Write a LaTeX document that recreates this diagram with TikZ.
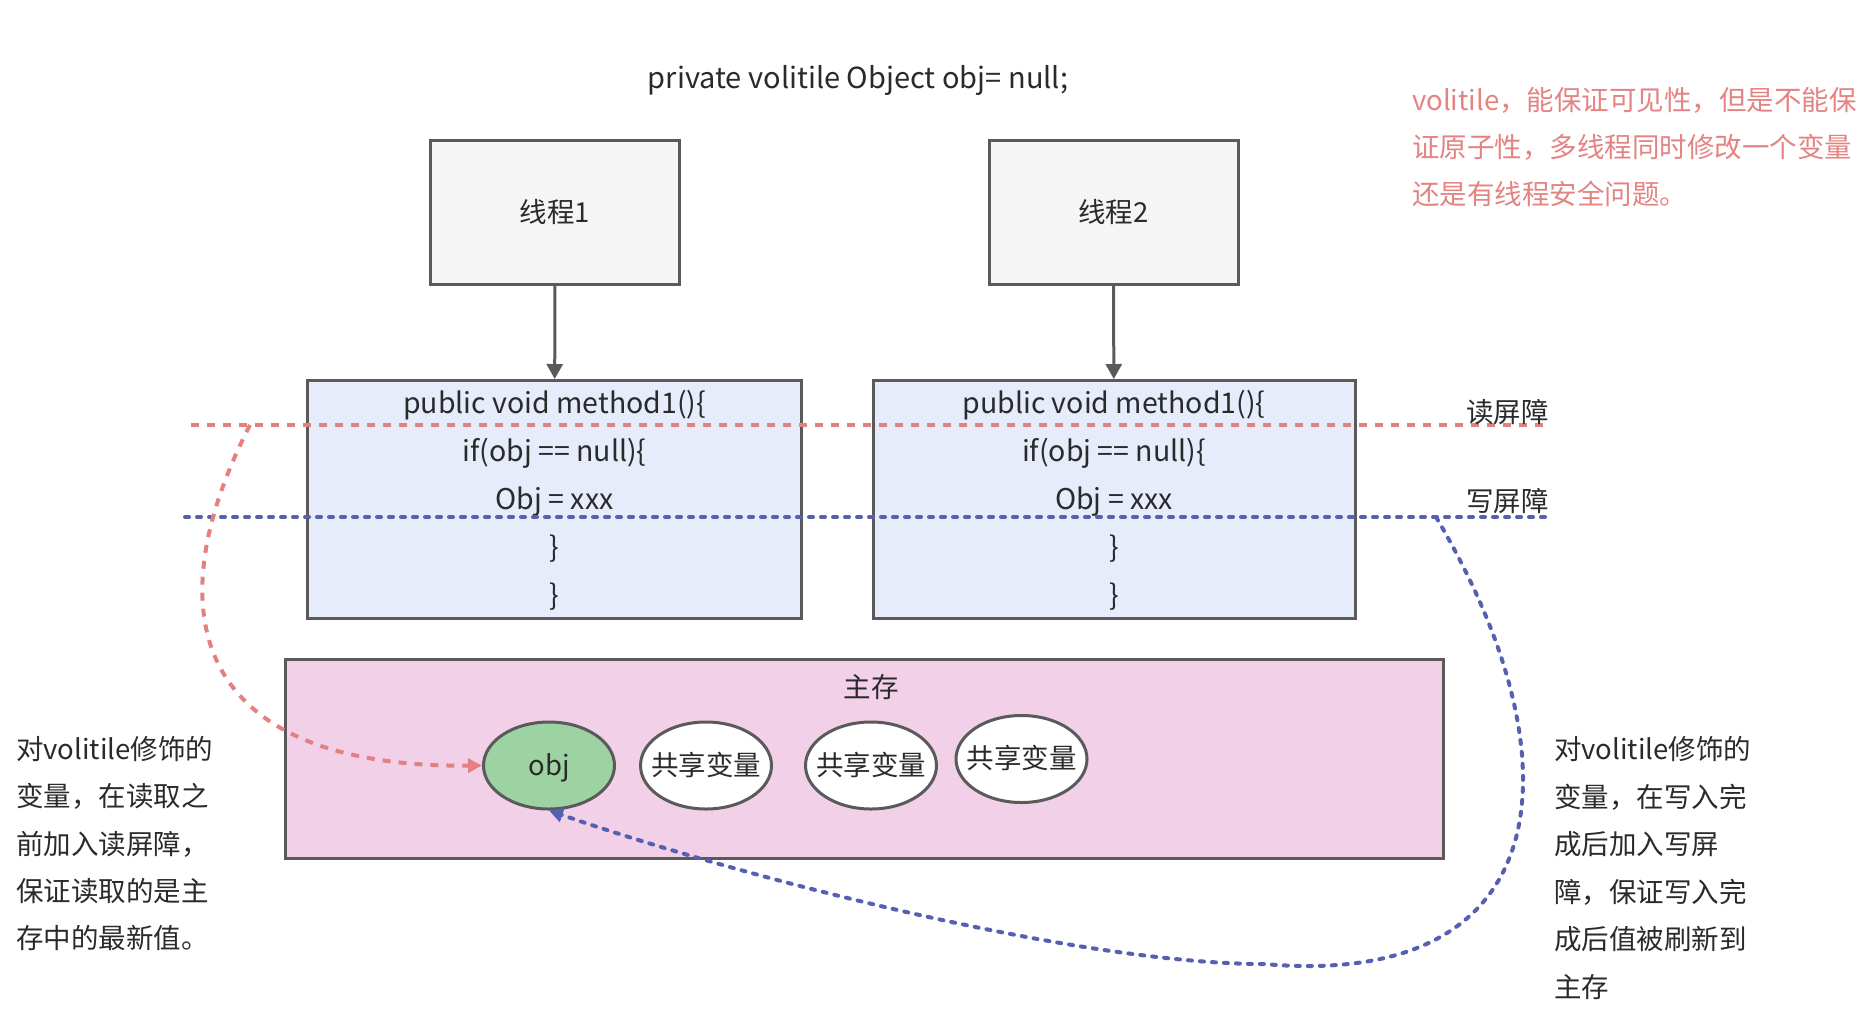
\documentclass[tikz,border=0pt]{standalone}
\usepackage{fontspec}
\setmainfont{Noto Sans CJK SC}
\usetikzlibrary{arrows.meta,shapes.geometric}
\definecolor{strokec}{HTML}{5A5A5A}
\definecolor{textc}{HTML}{2A2A2A}
\definecolor{threadfill}{HTML}{F5F5F5}
\definecolor{methodfill}{HTML}{E6ECFA}
\definecolor{memfill}{HTML}{F1D0E8}
\definecolor{objfill}{HTML}{9DD3A3}
\definecolor{redc}{HTML}{E58080}
\definecolor{redtext}{HTML}{E58282}
\definecolor{bluec}{HTML}{5560B0}
\newcommand\elltext[1]{\makebox[0pt]{\raisebox{-9.5pt}{#1}}}
\begin{document}
\begin{tikzpicture}[x=1pt,y=-1pt,
  txt/.style={font=\fontsize{27.5}{48}\selectfont, text=textc, inner sep=0pt, text height=22pt, text depth=3pt},
  code/.style={txt, font=\fontsize{28.5}{48}\selectfont},
  redtxt/.style={txt, text=redtext},
  boxstyle/.style={draw=strokec, line width=3pt, inner sep=0pt},
  threadbox/.style={boxstyle, fill=threadfill, minimum width=249pt, minimum height=144pt, font=\fontsize{27.5}{48}\selectfont, text=textc},
  methodbox/.style={boxstyle, fill=methodfill, minimum height=238pt},
  membox/.style={boxstyle, fill=memfill, minimum width=1158pt, minimum height=199pt},
  varell/.style={ellipse, draw=strokec, line width=3pt, fill=white, minimum width=131pt, minimum height=87pt, inner sep=0pt, text height=0pt, text depth=0pt, font=\fontsize{27.5}{48}\selectfont, text=textc},
  flow/.style={draw=strokec, line width=3pt, -{Triangle[length=15pt,width=16pt]}},
  readbar/.style={draw=redc, line width=4pt, dash pattern=on 8pt off 8pt},
  writebar/.style={draw=bluec, line width=4pt, dash pattern=on 4pt off 8pt, line cap=round},
]
\useasboundingbox (0,0) rectangle (1876,1018);

% title
\node[code, font=\fontsize{29}{48}\selectfont] (title) at (858,79) {private volitile Object obj= null;};

% note top right
\foreach \t [count=\i] in {volitile，能保证可见性，但是不能保, 证原子性，多线程同时修改一个变量, 还是有线程安全问题。}
  \node[redtxt, anchor=west] (note\i) at (1412,{101+47*(\i-1)}) {\t};

% memory
\node[membox] (mem) at (864.5,758.5) {};
\node[txt] (memlabel) at (871,688) {主存};
\node[varell, fill=objfill] (obj) at (549,765.5) {\elltext{obj}};
\node[varell] (v1) at (706,765.5) {\elltext{共享变量}};
\node[varell] (v2) at (871,765.5) {\elltext{共享变量}};
\node[varell] (v3) at (1021.5,759) {\elltext{共享变量}};

% threads
\node[threadbox] (t1) at (555,212) {线程1};
\node[threadbox] (t2) at (1113.5,212) {线程2};

% method boxes
\node[methodbox, minimum width=494pt] (m1) at (554.5,499.5) {};
\node[methodbox, minimum width=482pt] (m2) at (1114,499.5) {};
\foreach \b/\x in {m1/554.5, m2/1114} {
  \node[code] (\b a) at (\x,404) {public void method1()\{};
  \node[code] (\b b) at (\x,452) {if(obj == null)\{};
  \node[code] (\b c) at (\x,500) {Obj = xxx};
  \node[code] (\b d) at (\x,548) {\}};
  \node[code] (\b e) at (\x,596) {\}};
}

\draw[flow] (t1) -- (m1);
\draw[flow] (t2) -- (m2);

% barriers
\coordinate (rl) at (191,425);
\coordinate (rr) at (1549,425);
\coordinate (bl) at (185,517);
\coordinate (br) at (1549,517);
\draw[readbar] (rl) -- (rr);
\draw[writebar] (bl) -- (br);
\node[txt, anchor=east] (rlabel) at (1549,413) {读屏障};
\node[txt, anchor=east] (wlabel) at (1549,502) {写屏障};

% read curve
\coordinate (rs) at (250,425);
\draw[readbar, -{Triangle[length=14pt,width=14pt]}] (rs) .. controls (150,620) and (200,768) .. (obj.west);

% write curve
\coordinate (bs) at (1436,517);
\coordinate (bm) at (1264,964);
\draw[writebar, -{Triangle[length=14pt,width=14pt]}] (bs) .. controls (1580,760) and (1560,990) .. (bm) .. controls (1080,964) and (750,880) .. (obj.south);

% side texts
\foreach \t [count=\i] in {对volitile修饰的, 变量，在读取之, 前加入读屏障，, 保证读取的是主, 存中的最新值。}
  \node[txt, anchor=west] (left\i) at (16,{750+47.3*(\i-1)}) {\t};
\foreach \t [count=\i] in {对volitile修饰的, 变量，在写入完, 成后加入写屏, 障，保证写入完, 成后值被刷新到, 主存}
  \node[txt, anchor=west] (right\i) at (1554,{750+47.5*(\i-1)}) {\t};
\end{tikzpicture}
\end{document}
